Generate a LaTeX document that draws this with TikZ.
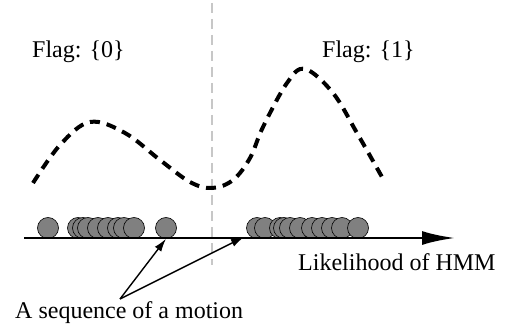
\documentclass[tikz,border=0pt]{standalone}
\usepackage{fontspec}
\setmainfont{Liberation Serif}
\usetikzlibrary{arrows.meta}
\begin{document}
\begin{tikzpicture}[x=1pt,y=-1pt,
  lbl/.style={font=\fontsize{24}{28}\selectfont, inner sep=0pt, anchor=base west},
  ball/.style={circle, draw=black, line width=0.6pt, fill=black!50, minimum size=21pt, inner sep=0pt},
  sep/.style={draw=black!22, line width=2.6pt, dash pattern=on 10pt off 6pt},
  curve/.style={draw=black, line width=4pt, dash pattern=on 10pt off 7pt},
  axis/.style={draw=black, line width=2.8pt, -{Latex[length=33pt,width=14pt]}},
  pointer/.style={draw=black, line width=1.4pt, -{Latex[length=13pt,width=8pt]}}]
\useasboundingbox (0,0) rectangle (511,331);
% separator
\coordinate (septop) at (212,3);
\coordinate (sepbot) at (212,265);
\draw[sep] (septop) -- (sepbot);
% labels
\node[lbl] (f0) at (32,58) {Flag: \{0\}};
\node[lbl] (f1) at (322,58) {Flag: \{1\}};
% curve
\draw[curve] plot[smooth, tension=0.6] coordinates {(33,183) (60,145) (90,122) (125,133) (160,160) (190,182) (212,188) (233,180) (250,158) (263,127) (287,83) (305,69) (333,93) (357,133) (382,177)};
% axis
\coordinate (axs) at (24,238);
\coordinate (axe) at (455,238);
% balls (left)
\foreach \i/\x in {a/48, b/78, c/83, d/88, e/98, f/108, g/118, h/124, i/134} {
  \node[ball] (L\i) at (\x,228) {};
}
\node[ball] (Lk) at (166,228) {};
% balls (right)
\foreach \i/\x in {a/257, b/265, c/280, d/284, e/290, f/300, g/312, h/322, i/332, j/342, k/358} {
  \node[ball] (R\i) at (\x,228) {};
}
\draw[axis] (axs) -- (axe);
% axis label
\node[lbl] (lh) at (298,270) {Likelihood of HMM};
% sequence label
\node[lbl] (seq) at (15,318) {A sequence of a motion};
\coordinate (apex) at (120,299);
\coordinate (tgt2) at (244,237);
\draw[pointer] (apex) -- (Lk.south);
\draw[pointer] (apex) -- (tgt2);
\end{tikzpicture}
\end{document}
